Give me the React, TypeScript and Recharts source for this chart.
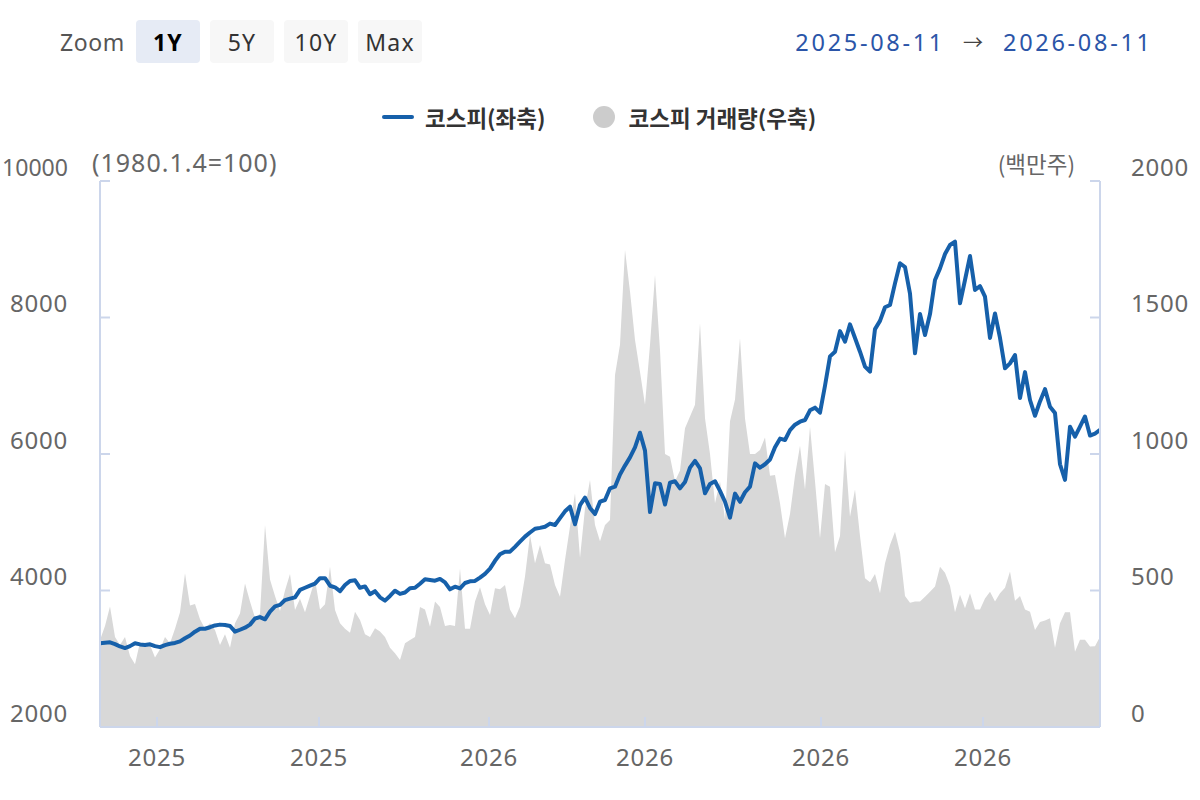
import React from 'react';
import { ComposedChart, Area, Line, XAxis, YAxis } from 'recharts';

// KOSPI index, one reading per session step (left axis)
const kospi = [
  3226, 3235, 3241, 3215, 3180, 3157, 3185, 3226, 3210, 3201,
  3212, 3185, 3170, 3200, 3220, 3232, 3255, 3300, 3340, 3397,
  3440, 3440, 3462, 3488, 3500, 3495, 3480, 3397, 3425, 3455,
  3500, 3590, 3610, 3578, 3690, 3768, 3790, 3860, 3880, 3900,
  4010, 4040, 4070, 4100, 4180, 4180, 4070, 4047, 3990, 4080,
  4140, 4150, 4040, 4060, 3945, 3990, 3900, 3852, 3920, 3997,
  3950, 3970, 4032, 4040, 4100, 4164, 4155, 4144, 4170, 4120,
  4017, 4056, 4030, 4110, 4135, 4140, 4190, 4245, 4320, 4435,
  4530, 4569, 4569, 4640, 4715, 4790, 4850, 4905, 4918, 4935,
  4980, 4960, 5060, 5160, 5228, 4970, 5250, 5360, 5210, 5120,
  5301, 5326, 5497, 5521, 5700, 5830, 5950, 6098, 6312, 6050,
  5150, 5570, 5560, 5260, 5580, 5600, 5497, 5590, 5800, 5900,
  5790, 5424, 5560, 5600, 5460, 5300, 5067, 5420, 5300, 5440,
  5521, 5863, 5800, 5850, 5920, 6100, 6225, 6205, 6350, 6430,
  6473, 6498, 6640, 6679, 6605, 7000, 7430, 7499, 7800, 7645,
  7900, 7700, 7499, 7279, 7206, 7830, 7950, 8150, 8183, 8500,
  8794, 8740, 8350, 7475, 8050, 7744, 8050, 8549, 8720, 8930,
  9062, 9111, 8208, 8550, 8900, 8403, 8460, 8305, 7700, 8060,
  7700, 7255, 7328, 7450, 6820, 7200, 6791, 6560, 6770, 6950,
  6693, 6600, 5850, 5620, 6400, 6254, 6400, 6550, 6270, 6300,
  6352,
];

// KOSPI trading volume, million shares (right axis)
const volume = [
  319, 370, 441, 330, 300, 330, 260, 230, 310, 300,
  300, 255, 285, 330, 307, 360, 420, 563, 445, 451,
  395, 360, 380, 355, 300, 340, 290, 380, 416, 526,
  460, 400, 415, 740, 540, 480, 425, 500, 560, 429,
  470, 420, 480, 540, 430, 450, 587, 429, 380, 360,
  345, 422, 392, 340, 330, 362, 350, 330, 290, 270,
  245, 307, 319, 330, 440, 430, 367, 460, 440, 370,
  374, 370, 581, 360, 360, 460, 512, 450, 410, 508,
  505, 520, 430, 398, 441, 551, 703, 600, 667, 600,
  595, 520, 477, 612, 734, 856, 620, 800, 905, 740,
  680, 740, 758, 1289, 1400, 1747, 1595, 1418, 1300, 1180,
  1400, 1656, 1380, 1000, 990, 900, 940, 1094, 1137, 1180,
  1479, 1131, 1000, 820, 900, 760, 1120, 1200, 1424, 1130,
  1000, 1000, 1015, 1060, 920, 923, 820, 691, 780, 920,
  1030, 870, 1100, 900, 691, 890, 880, 640, 700, 1015,
  770, 870, 700, 545, 530, 560, 490, 600, 667, 715,
  640, 480, 455, 460, 460, 477, 495, 515, 587, 565,
  517, 420, 484, 435, 490, 430, 430, 471, 495, 460,
  490, 510, 570, 462, 480, 430, 422, 355, 385, 390,
  398, 290, 380, 420, 420, 276, 320, 320, 295, 296,
  331,
];

// session positions of the month starts shown on the x axis
const monthTicks = [11.4, 43.8, 77.8, 109, 144.2, 176.6];
const monthLabels = ['2025', '2025', '2026', '2026', '2026', '2026'];
const leftTicks = [2000, 4000, 6000, 8000, 10000];
const rightTicks = [0, 500, 1000, 1500, 2000];
const zoomButtons = ['1Y', '5Y', '10Y', 'Max'];
const rangeFrom = '2025-08-11';
const rangeTo = '2026-08-11';
const seriesNames = ['코스피(좌축)', '코스피 거래량(우축)'];
const axisTitles = ['(1980.1.4=100)', '(백만주)'];

const data = kospi.map((v, i) => ({ i, kospi: v, volume: volume[i] }));

const LATIN = "'Noto Sans', 'Noto Sans CJK KR', sans-serif";
const KOREAN = "'Noto Sans CJK KR', 'Noto Sans', sans-serif";
const AXIS = '#ccd6eb';
const LABEL = '#666666';
const BLUE = '#1660aa';
const GRAY = '#d8d8d8';

const LeftTick = ({ x, y, payload }: any) => {
  const wide = String(payload.value).length > 4;
  return (
    <text
      x={x}
      y={y - 15}
      textAnchor="end"
      dominantBaseline="central"
      fill={LABEL}
      fontSize={24}
      letterSpacing={wide ? 0 : 0.8}
      textLength={wide ? 66 : undefined}
      lengthAdjust="spacingAndGlyphs"
      fontFamily={LATIN}
    >
      {payload.value}
    </text>
  );
};

const RightTick = ({ x, y, payload }: any) => (
  <text x={x} y={y - 15} textAnchor="start" dominantBaseline="central" fill={LABEL} fontSize={24} letterSpacing={0.8} fontFamily={LATIN}>
    {payload.value}
  </text>
);

const BottomTick = ({ x, y, payload, index }: any) => (
  <text x={x} y={y - 2} textAnchor="middle" dominantBaseline="central" fill={LABEL} fontSize={24} letterSpacing={0.8} fontFamily={LATIN}>
    {monthLabels[index] ?? payload.value}
  </text>
);

const App: React.FC = () => {
  return (
    <div style={{ position: 'absolute', left: 0, top: 0, width: 1200, height: 800, fontFamily: LATIN, background: '#fff' }}>
      {/* range selector */}
      <div style={{ position: 'absolute', left: 60, top: 20, height: 43, display: 'flex', alignItems: 'center', fontSize: 23, letterSpacing: 0.6, color: '#555' }}>
        Zoom
      </div>
      <div style={{ position: 'absolute', left: 136, top: 20, display: 'flex', gap: 10 }}>
        {zoomButtons.map((b, k) => (
          <div
            key={b}
            style={{
              width: 64,
              height: 43,
              borderRadius: 4,
              background: k === 0 ? '#e6ebf5' : '#f7f7f7',
              color: k === 0 ? '#000' : '#333',
              fontWeight: k === 0 ? 700 : 400,
              fontSize: 23,
              letterSpacing: 1.2,
              display: 'flex',
              alignItems: 'center',
              justifyContent: 'center',
            }}
          >
            {b}
          </div>
        ))}
      </div>
      <div style={{ position: 'absolute', right: 50, top: 20, height: 43, display: 'flex', alignItems: 'center', fontSize: 23.5, letterSpacing: 2.7, color: '#2b55a8', whiteSpace: 'nowrap' }}>
        <span>{rangeFrom}</span>
        <span style={{ color: '#444', margin: '0 20px 0 18px', fontSize: 20, letterSpacing: 0 }}>→</span>
        <span style={{ marginRight: -2.7 }}>{rangeTo}</span>
      </div>

      {/* legend */}
      <div style={{ position: 'absolute', left: 382, top: 100, height: 34, display: 'flex', alignItems: 'center', fontFamily: KOREAN, fontSize: 22.5, fontWeight: 700, color: '#333', whiteSpace: 'nowrap' }}>
        <span style={{ display: 'inline-block', width: 32, height: 4, borderRadius: 2, background: BLUE, marginRight: 11 }} />
        <span>{seriesNames[0]}</span>
        <span style={{ display: 'inline-block', width: 22, height: 22, borderRadius: 11, background: '#cccccc', marginLeft: 47, marginRight: 14 }} />
        <span>{seriesNames[1]}</span>
      </div>

      {/* axis titles */}
      <div style={{ position: 'absolute', left: 92, top: 146, height: 32, display: 'flex', alignItems: 'center', fontSize: 25, letterSpacing: 1, color: LABEL, whiteSpace: 'nowrap' }}>
        {axisTitles[0]}
      </div>
      <div style={{ position: 'absolute', right: 125, top: 147, height: 32, display: 'flex', alignItems: 'center', fontFamily: KOREAN, fontSize: 22.5, color: LABEL, whiteSpace: 'nowrap' }}>
        {axisTitles[1]}
      </div>

      <div style={{ position: 'absolute', left: 0, top: 0 }}>
        <ComposedChart width={1200} height={800} data={data} margin={{ top: 181, right: 0, bottom: 0, left: 0 }}>
          <XAxis
            dataKey="i"
            type="number"
            domain={[0, 200]}
            ticks={monthTicks}
            interval={0}
            height={73}
            axisLine={{ stroke: AXIS, strokeWidth: 2 }}
            tickLine={{ stroke: AXIS, strokeWidth: 2 }}
            tickSize={-10}
            tickMargin={41}
            tick={<BottomTick />}
          />
          <YAxis
            yAxisId="left"
            orientation="left"
            domain={[2000, 10000]}
            ticks={leftTicks}
            interval={0}
            width={100}
            axisLine={{ stroke: AXIS, strokeWidth: 2 }}
            tickLine={{ stroke: AXIS, strokeWidth: 2 }}
            tickSize={-10}
            tickMargin={42}
            tick={<LeftTick />}
          />
          <YAxis
            yAxisId="right"
            orientation="right"
            domain={[0, 2000]}
            ticks={rightTicks}
            interval={0}
            width={100}
            axisLine={{ stroke: AXIS, strokeWidth: 2 }}
            tickLine={{ stroke: AXIS, strokeWidth: 2 }}
            tickSize={-10}
            tickMargin={41}
            tick={<RightTick />}
          />
          <Area
            yAxisId="right"
            dataKey="volume"
            type="linear"
            stroke="none"
            fill={GRAY}
            fillOpacity={1}
            isAnimationActive={false}
          />
          <Line
            yAxisId="left"
            dataKey="kospi"
            type="linear"
            stroke={BLUE}
            strokeWidth={4}
            strokeLinejoin="round"
            dot={false}
            activeDot={false}
            isAnimationActive={false}
          />
        </ComposedChart>
      </div>
    </div>
  );
};

export default App;
